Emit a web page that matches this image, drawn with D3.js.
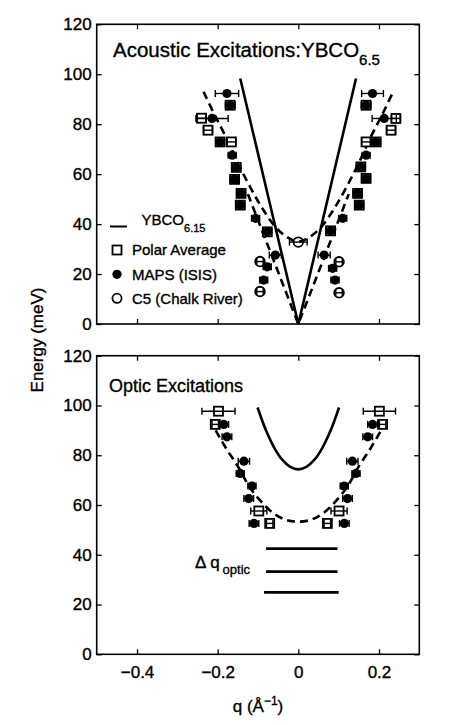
<!DOCTYPE html>
<html><head><meta charset="utf-8">
<script src="https://cdn.jsdelivr.net/npm/d3@7"></script>
<style>
body{margin:0;background:#fff;}
svg text{font-family:"Liberation Sans",Arial,Helvetica,sans-serif;fill:#000;stroke:#000;stroke-width:0.35px;}
</style></head>
<body><svg id="c" width="456" height="725"></svg>
<script>
// ---------- data ----------
const xTicks = [-0.4, -0.2, 0, 0.2];
const xTickLabels = ["\u22120.4", "\u22120.2", "0", "0.2"];
const yTicks = [0, 20, 40, 60, 80, 100, 120];

// Top panel: acoustic excitations
const mapsTopQ   = [-0.177,-0.169,-0.214,-0.194,-0.164,-0.154,-0.158,-0.142,-0.144,-0.106,-0.077,-0.057,-0.077,-0.086,
                     0.184, 0.168, 0.213, 0.193, 0.168, 0.155, 0.168, 0.147, 0.151, 0.110, 0.080, 0.064, 0.085, 0.091];
const mapsTopE   = [92.3, 87.6, 82.3, 72.9, 67.6, 62.7, 57.9, 52.3, 47.6, 42.3, 36.9, 27.6, 22.9, 17.6,
                    92.3, 87.6, 82.3, 72.9, 67.6, 62.9, 58.3, 52.3, 47.6, 42.3, 37.3, 27.6, 22.3, 17.6];
const mapsTopErr = [0.029,0.012,0.04,0.01,0.01,0.01,0.01,0.01,0.01,0.01,0.01,0.015,0.01,0.01,
                    0.027,0.012,0.03,0.01,0.01,0.01,0.01,0.01,0.01,0.01,0.01,0.015,0.01,0.01];

const polarTopQ = [-0.240,-0.224,-0.166,-0.194,-0.169,-0.154,-0.158,-0.142,-0.144,-0.077,
                    0.242, 0.230, 0.168, 0.193, 0.168, 0.155, 0.168, 0.147, 0.151, 0.080];
const polarTopE = [82.4, 77.6, 72.9, 72.9, 87.6, 62.7, 57.9, 52.3, 47.6, 36.9,
                   82.3, 77.6, 72.9, 72.9, 87.6, 62.9, 58.3, 52.3, 47.6, 37.3];

const c5Q   = [-0.095, -0.095, 0, 0.101, 0.101];
const c5E   = [25.0, 13.0, 32.8, 24.9, 12.5];
const c5Err = [0.008, 0.008, 0.022, 0.008, 0.008];

const ybco615Q = [-0.144, 0, 0.143];
const ybco615E = [98.3, 0, 98.3];

const dashGapQ = [-0.235,-0.21,-0.18,-0.15,-0.12,-0.09,-0.06,-0.03,0,0.03,0.06,0.09,0.12,0.15,0.18,0.21,0.235];
const dashGapE = [93, 84.5, 75, 64.5, 55, 46.5, 39.5, 35, 33, 35, 39.5, 46.5, 55, 64.5, 75, 84.5, 93];

const dashLinQ = [-0.125, 0, 0.125];
const dashLinE = [52, 0, 52];

// Bottom panel: optic excitations
const mapsBotQ   = [-0.185,-0.177,-0.135,-0.144,-0.115,-0.123,-0.110,
                     0.184, 0.172, 0.134, 0.143, 0.114, 0.122, 0.114];
const mapsBotE   = [92.4, 87.4, 77.6, 72.7, 67.6, 62.6, 52.6,
                    92.4, 87.4, 77.6, 72.7, 67.6, 62.6, 52.6];
const mapsBotErr = [0.012,0.012,0.014,0.01,0.01,0.012,0.012,
                    0.012,0.012,0.014,0.01,0.01,0.012,0.012];

const polarBotQ   = [-0.198,-0.206,-0.098,-0.071, 0.201, 0.209, 0.101, 0.072];
const polarBotE   = [97.7, 92.4, 57.6, 52.6, 97.7, 92.4, 57.6, 52.6];
const polarBotErr = [0.041, 0.008, 0.02, 0.008, 0.04, 0.008, 0.02, 0.008];

const optSolidQ = [-0.101,-0.08,-0.06,-0.04,-0.02,0,0.02,0.04,0.06,0.08,0.101];
const optSolidE = [99.2, 89.9, 83.1, 78.2, 75.3, 74.3, 75.3, 78.2, 83.1, 89.9, 99.2];

const optDashQ = [-0.205,-0.18,-0.15,-0.12,-0.09,-0.06,-0.03,0,0.03,0.06,0.09,0.12,0.15,0.18,0.205];
const optDashE = [90, 83, 75.5, 67, 61, 56.5, 54, 53.3, 54, 56.5, 61, 67, 75.5, 83, 90];

const resE  = [42.5, 33.2, 24.9];
const resQ0 = [-0.080, -0.080, -0.085];
const resQ1 = [0.097, 0.097, 0.100];

// ---------- drawing ----------
const svg = d3.select("#c");
const x = d3.scaleLinear().domain([-0.5, 0.3]).range([96.7, 419.3]);
const yT = d3.scaleLinear().domain([0, 120]).range([324, 24.3]);
const yB = d3.scaleLinear().domain([0, 120]).range([654.3, 355.7]);

function frame(y, showX) {
  const g = svg.append("g");
  const [x0, x1] = x.range(), [y0, y1] = y.range();
  g.append("rect").attr("x", x0).attr("y", y1).attr("width", x1 - x0).attr("height", y0 - y1)
    .attr("fill", "none").attr("stroke", "#000").attr("stroke-width", 1.6);
  const ax = g.append("g").attr("transform", `translate(${x0},0)`)
    .call(d3.axisLeft(y).tickValues(yTicks).tickSize(-5).tickPadding(5).tickFormat(d3.format("d")));
  ax.select(".domain").remove();
  ax.selectAll("text").style("font-size", "17px").attr("font-family", null);
  const axr = g.append("g").attr("transform", `translate(${x1},0)`)
    .call(d3.axisRight(y).tickValues(yTicks).tickSize(-5).tickFormat(""));
  axr.select(".domain").remove();
  const axb = g.append("g").attr("transform", `translate(0,${y0})`)
    .call(d3.axisBottom(x).tickValues(xTicks).tickSize(-5).tickPadding(12)
      .tickFormat((d, i) => showX ? xTickLabels[i] : ""));
  axb.select(".domain").remove();
  axb.selectAll("text").style("font-size", "17px").attr("font-family", null);
  const axt = g.append("g").attr("transform", `translate(0,${y1})`)
    .call(d3.axisTop(x).tickValues(xTicks).tickSize(-5).tickFormat(""));
  axt.select(".domain").remove();
  g.selectAll(".tick line").attr("stroke-width", 1.3);
}

function lineOf(qs, es, y, dashed, curve) {
  const pts = qs.map((q, i) => [x(q), y(es[i])]);
  svg.append("path").attr("d", d3.line().curve(curve || d3.curveLinear)(pts))
    .attr("fill", "none").attr("stroke", "#000").attr("stroke-width", 2.6)
    .attr("stroke-dasharray", dashed ? "8,5" : null);
}

function errBar(q, e, err, y) {
  const cy = y(e), xa = x(q - err), xb = x(q + err);
  svg.append("line").attr("x1", xa).attr("x2", xb).attr("y1", cy).attr("y2", cy)
    .attr("stroke", "#000").attr("stroke-width", 1.4);
  [xa, xb].forEach(xx => svg.append("line").attr("x1", xx).attr("x2", xx)
    .attr("y1", cy - 3.5).attr("y2", cy + 3.5).attr("stroke", "#000").attr("stroke-width", 1.4));
}

function squares(qs, es, errs, y) {
  qs.forEach((q, i) => {
    const cx = x(q), cy = y(es[i]);
    svg.append("rect").attr("x", cx - 4.5).attr("y", cy - 4.5).attr("width", 9).attr("height", 9)
      .attr("fill", "#fff").attr("stroke", "#000").attr("stroke-width", 1.8);
    errBar(q, es[i], errs ? errs[i] : 0.011, y);
  });
}
function dots(qs, es, errs, y) {
  qs.forEach((q, i) => {
    errBar(q, es[i], errs[i], y);
    svg.append("circle").attr("cx", x(q)).attr("cy", y(es[i])).attr("r", 4.6).attr("fill", "#000");
  });
}

// top panel
frame(yT, false);
lineOf(ybco615Q, ybco615E, yT, false);
lineOf(dashGapQ, dashGapE, yT, true, d3.curveCatmullRom);
lineOf(dashLinQ, dashLinE, yT, true);
squares(polarTopQ, polarTopE, null, yT);
dots(mapsTopQ, mapsTopE, mapsTopErr, yT);
c5Q.forEach((q, i) => {
  errBar(q, c5E[i], c5Err[i], yT);
  svg.append("circle").attr("cx", x(q)).attr("cy", yT(c5E[i])).attr("r", 4.8)
    .attr("fill", "none").attr("stroke", "#000").attr("stroke-width", 1.8);
});

// top title
const t1 = svg.append("text").attr("x", 113).attr("y", 57).style("font-size", "20.5px");
t1.append("tspan").text("Acoustic Excitations:YBCO");
t1.append("tspan").attr("dy", 8).style("font-size", "15px").text("6.5");

// legend
const lg = svg.append("g");
lg.append("line").attr("x1", 110).attr("x2", 127).attr("y1", 226.5).attr("y2", 226.5)
  .attr("stroke", "#000").attr("stroke-width", 2);
const l1 = lg.append("text").attr("x", 141.5).attr("y", 225).style("font-size", "15px");
l1.append("tspan").text("YBCO");
l1.append("tspan").attr("dy", 7).style("font-size", "11px").text("6.15");
lg.append("rect").attr("x", 112.5).attr("y", 245.5).attr("width", 9).attr("height", 9)
  .attr("fill", "none").attr("stroke", "#000").attr("stroke-width", 1.8);
lg.append("text").attr("x", 132).attr("y", 255).style("font-size", "15px").text("Polar Average");
lg.append("circle").attr("cx", 117).attr("cy", 274.3).attr("r", 4.6).attr("fill", "#000");
lg.append("text").attr("x", 132).attr("y", 279.5).style("font-size", "15px").text("MAPS (ISIS)");
lg.append("circle").attr("cx", 117).attr("cy", 298.3).attr("r", 4.6)
  .attr("fill", "none").attr("stroke", "#000").attr("stroke-width", 1.8);
lg.append("text").attr("x", 132).attr("y", 303.5).style("font-size", "15px").text("C5 (Chalk River)");

// bottom panel
frame(yB, true);
lineOf(optSolidQ, optSolidE, yB, false, d3.curveCatmullRom);
lineOf(optDashQ, optDashE, yB, true, d3.curveCatmullRom);
squares(polarBotQ, polarBotE, polarBotErr, yB);
dots(mapsBotQ, mapsBotE, mapsBotErr, yB);
resE.forEach((e, i) => {
  svg.append("line").attr("x1", x(resQ0[i])).attr("x2", x(resQ1[i]))
    .attr("y1", yB(e)).attr("y2", yB(e)).attr("stroke", "#000").attr("stroke-width", 2.8);
});
const dq = svg.append("text").attr("x", 195).attr("y", 568).style("font-size", "17px");
dq.append("tspan").text("\u0394 q");
dq.append("tspan").attr("dx", 3).attr("dy", 6).style("font-size", "13px").text("optic");

svg.append("text").attr("x", 109).attr("y", 391.5).style("font-size", "18px").text("Optic Excitations");

// axis titles
const xt = svg.append("text").attr("x", 258).attr("y", 712).attr("text-anchor", "middle").style("font-size", "17px");
xt.append("tspan").text("q (\u00C5");
xt.append("tspan").attr("dy", -7).style("font-size", "12px").text("\u22121");
xt.append("tspan").attr("dy", 7).text(")");
svg.append("text").attr("transform", "translate(43,340) rotate(-90)").attr("text-anchor", "middle")
  .style("font-size", "17px").text("Energy (meV)");
</script></body></html>
